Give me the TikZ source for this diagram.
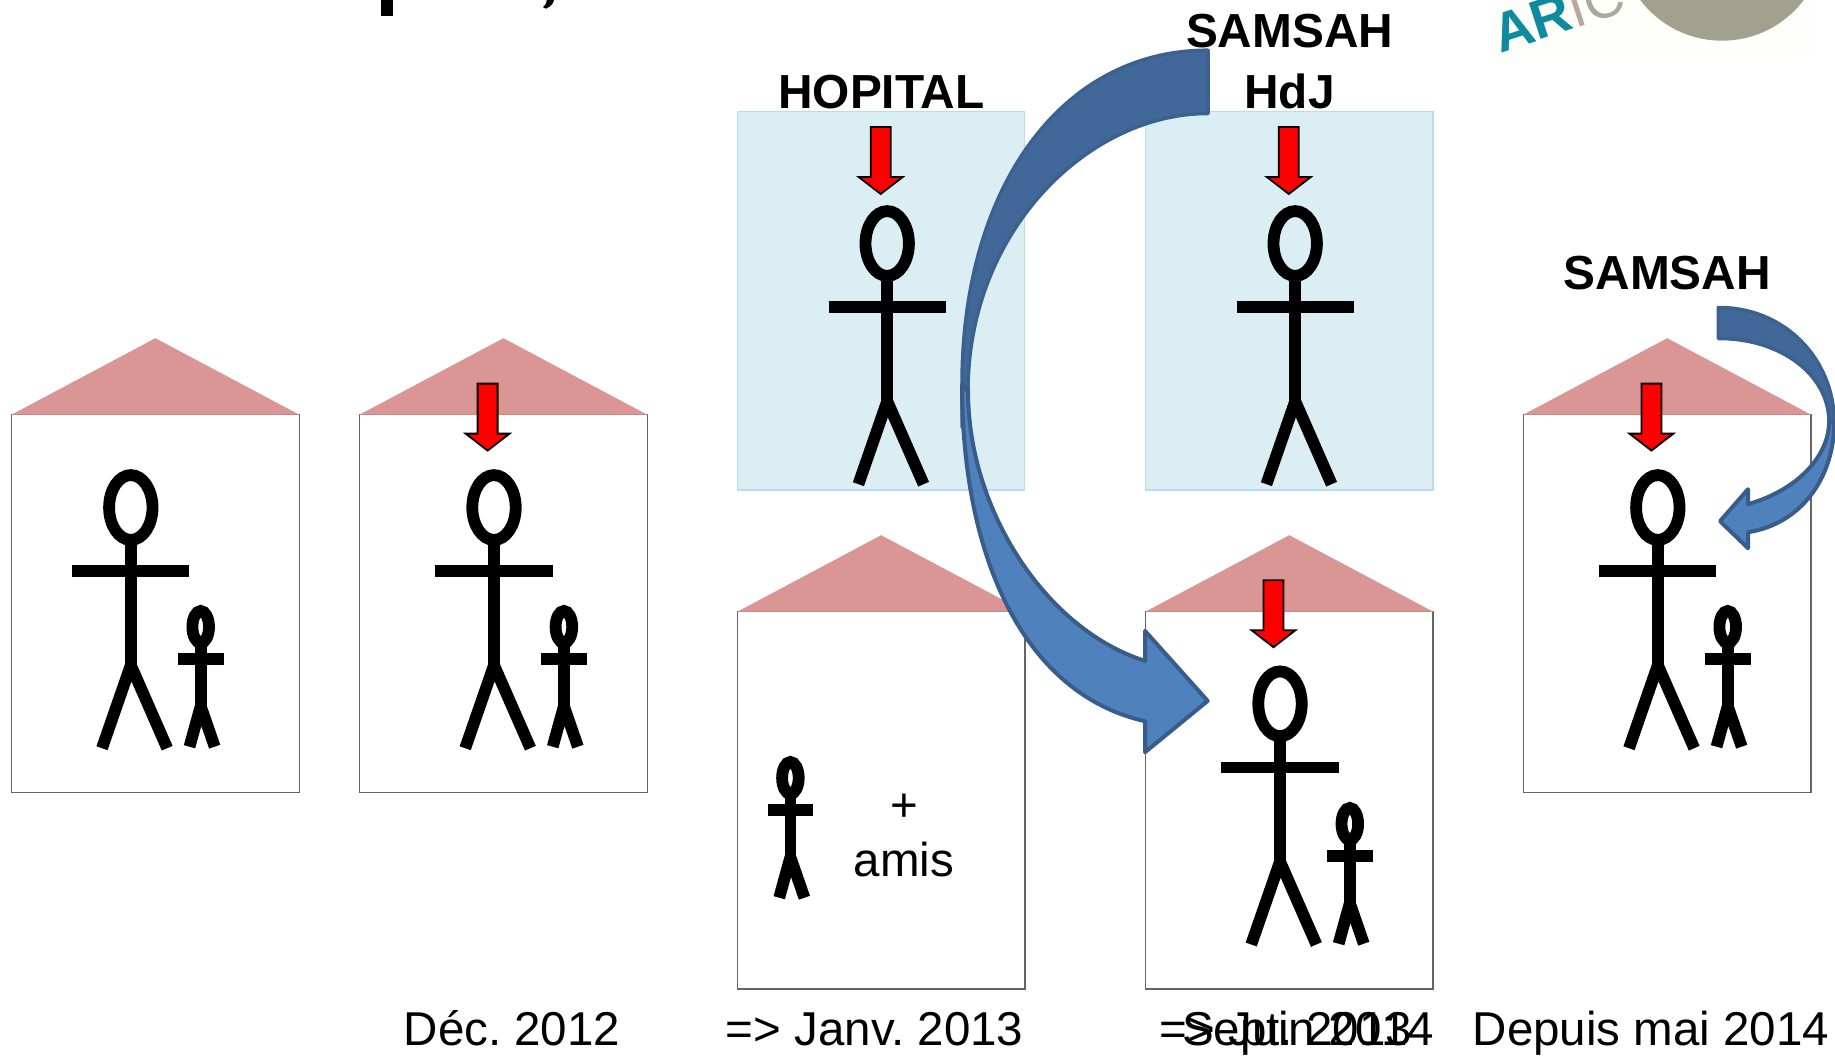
\documentclass[tikz,border=0pt]{standalone}
\usepackage{fontspec}
\setmainfont{Liberation Sans}
\frenchspacing
\definecolor{roofc}{HTML}{D99694}
\definecolor{roofl}{HTML}{C88885}
\definecolor{hospf}{HTML}{DBEEF4}
\definecolor{hospl}{HTML}{B7DEE8}
\definecolor{arrfront}{HTML}{4F81BD}
\definecolor{arrback}{HTML}{416899}
\definecolor{arredge}{HTML}{385D8A}
\definecolor{backedge}{HTML}{3B618F}
\definecolor{logogrey}{HTML}{A2A18E}
\definecolor{logoteal}{HTML}{0F8A9E}
\definecolor{logoi}{HTML}{B8A89C}
\definecolor{logoc}{HTML}{A9A99E}
\definecolor{logobg}{HTML}{FEFEFB}
\tikzset{
  x=1pt,y=-1pt,
  wall/.style={fill=white,draw=black!60,line width=1.2pt},
  rooftop/.style={fill=roofc,draw=none},
  roofbase/.style={draw=roofl,line width=1.2pt},
  hosp/.style={fill=hospf,draw=hospl,line width=1.3pt},
  limb/.style={draw=black,line width=11.8pt,line cap=butt,line join=miter},
  reddown/.style={fill=red,draw=black,line width=1.8pt,line join=miter},
  backface/.style={fill=arrback,draw=backedge,line width=3.5pt,line join=round},
  frontface/.style={fill=arrfront,draw=arredge,line width=4pt,line join=round},
  lab/.style={anchor=base,inner sep=0pt,font=\fontsize{47.5}{47.5}\selectfont},
  blab/.style={anchor=base,inner sep=0pt,font=\fontsize{47.8}{47.8}\selectfont\bfseries},
}
\newcommand{\bigman}[2]{%
  \draw[limb] (#1,#2+38.3) ellipse [x radius=21.7,y radius=32.4];
  \draw[limb] (#1,#2+70) -- (#1,#2+196.5);
  \draw[limb] (#1-58.6,#2+102) -- (#1+58.6,#2+102);
  \draw[limb,line join=miter] (#1-28.8,#2+279) -- (#1,#2+196) -- (#1+36.4,#2+279);
}
\newcommand{\smallman}[2]{%
  \draw[limb] (#1,#2+21.7) ellipse [x radius=8.3,y radius=15.9];
  \draw[limb] (#1,#2+37) -- (#1,#2+101.5);
  \draw[limb] (#1-22.9,#2+54) -- (#1+22.9,#2+54);
  \draw[limb] (#1-11.2,#2+141.5) -- (#1,#2+101) -- (#1+14,#2+141.5);
}
\newcommand{\maison}[3]{% left, apex y, bottom y
  \draw[wall] (#1,#2+76.4) rectangle (#1+287.4,#3);
  \fill[rooftop] (#1,#2+76.4) -- (#1+143.7,#2) -- (#1+287.4,#2+76.4) -- cycle;
  \draw[roofbase] (#1,#2+76.4) -- (#1+287.4,#2+76.4);
}
\newcommand{\redarrow}[2]{%
  \draw[reddown] (#1-10,#2) -- (#1+10,#2) -- (#1+10,#2+50) -- (#1+22,#2+50) -- (#1,#2+67) -- (#1-22,#2+50) -- (#1-10,#2+50) -- cycle;
}
\begin{document}
\begin{tikzpicture}
\useasboundingbox (0,0.8) rectangle (1835,1057.8);
\fill[white] (0,0) rectangle (1835,1058);
% title remnant
\fill[black] (381,0) rectangle (393,16.5);
\fill[black] (545,0) -- (554,0) .. controls (554,4) and (551,7) .. (546,9.5) -- (543,8) .. controls (546,5) and (547,3) .. (547,0) -- cycle;
% logo remnant
\fill[logobg] (1493,0) rectangle (1810,58);
\fill[logogrey] (1722,-61) circle (102.5);
\node[inner sep=0pt,anchor=base west,rotate=18,font=\fontsize{55}{55}\selectfont] (logo) at (1500,54)
  {\textcolor{logoteal}{\bfseries AR}\textcolor{logoi}{I}\textcolor{logoc}{C}};
% houses
\maison{11.7}{339}{793.4}
\maison{359.7}{339}{793.4}
\maison{737.5}{536}{989.8}
\maison{1145.6}{536}{989.8}
\maison{1523.5}{339}{793.4}
% hospital boxes
\draw[hosp] (737.5,112.6) rectangle (1024.7,490.9);
\draw[hosp] (1145.6,112.6) rectangle (1433,490.9);
% figures
\bigman{130.8}{470}
\smallman{200.7}{606}
\bigman{494}{470}
\smallman{563.9}{606}
\bigman{887.2}{206}
\bigman{1295.2}{206}
\smallman{790.4}{757}
\bigman{1280}{666.3}
\smallman{1349.8}{803}
\bigman{1657.8}{470}
\smallman{1727.7}{606}
% red arrows
\redarrow{487.6}{384.4}
\redarrow{880.7}{127.8}
\redarrow{1288.8}{127.8}
\redarrow{1273.5}{581}
\redarrow{1651.4}{384.4}
% big curved arrow
\draw[backface] (1208,51) .. controls (1060,51) and (962,190) .. (962,385) -- (962,428) -- (970,428)
  .. controls (968.5,415) and (968,405) .. (968,392)
  .. controls (968,230) and (1090,114) .. (1208,114.3) -- cycle;
\draw[frontface] (962,385) .. controls (962,560) and (1025,695) .. (1145,722)
  -- (1145,753) -- (1207.7,701.7) -- (1145,631.7) -- (1145,661.7)
  .. controls (1045,630) and (968,510) .. (968,392) -- cycle;
% small curved arrow
\draw[backface] (1718.3,308.3) .. controls (1785,308) and (1834,360) .. (1834.3,423) -- (1834.3,440) -- (1829,440) -- (1829,423)
  .. controls (1829,375) and (1780,339) .. (1718.3,339.3) -- cycle;
\draw[frontface] (1834.3,423) .. controls (1834,480) and (1800,525) .. (1748,533)
  -- (1748,549) -- (1720,522) -- (1748,490) -- (1748,505)
  .. controls (1800,490) and (1829,455) .. (1829,423) -- cycle;
% texts
\node[blab] (thop) at (881.5,108.9) {HOPITAL};
\node[blab] (tsam1) at (1289.6,48) {SAMSAH};
\node[blab] (thdj) at (1289.5,108.9) {HdJ};
\node[blab] (tsam2) at (1667.2,290) {SAMSAH};
\node[lab] (tplus) at (904,822.5) {+};
\node[lab] (tamis) at (904,877) {amis};
\node[lab] (tdec) at (512,1046.6) {Déc. 2012};
\node[lab] (tjan) at (874.6,1046.6) {=> Janv. 2013};
\node[lab] (tsep) at (1297,1046.6) {Sept. 2013};
\node[lab,anchor=base east] (tjuin) at (1434.5,1046.6) {=> Juin 2014};
\node[lab] (tdep) at (1651,1046.6) {Depuis mai 2014};
\end{tikzpicture}
\end{document}
